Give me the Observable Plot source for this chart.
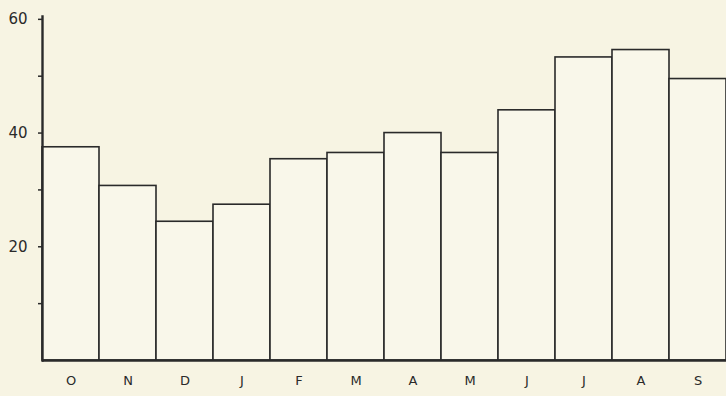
<!DOCTYPE html>
<html>
<head>
<meta charset="utf-8">
<script src="https://cdn.jsdelivr.net/npm/d3@7"></script>
<script src="https://cdn.jsdelivr.net/npm/@observablehq/plot@0.6"></script>
<style>
  html, body { margin: 0; padding: 0; background: #f7f4e3; }
  #chart svg { display: block; }
</style>
</head>
<body>
<div id="chart"></div>
<script>
const months = ["O","N","D","J","F","M","A","M","J","J","A","S"];
const values = [37.5, 30.7, 24.4, 27.4, 35.4, 36.5, 40.0, 36.5, 44.0, 53.3, 54.6, 49.5];
const yTicks = [10, 20, 30, 40, 50, 60];
const yLabelled = [20, 40, 60];

const data = months.map((m, i) => ({key: i, label: m, value: values[i]}));
const ink = "#2a2a2a";

const chart = Plot.plot({
  width: 726,
  height: 396,
  marginLeft: 42,
  marginRight: 0,
  marginTop: 16,
  marginBottom: 36,
  style: {background: "#f7f4e3", fontFamily: "DejaVu Sans", color: ink},
  x: {type: "band", domain: data.map(d => d.key), padding: 0},
  y: {domain: [0, 60.5]},
  marks: [
    Plot.barY(data, {x: "key", y: "value", fill: "#f9f7ea", stroke: ink, strokeWidth: 1.6}),
    Plot.ruleY([0], {stroke: ink, strokeWidth: 2.6}),
    Plot.frame({anchor: "left", stroke: ink, strokeWidth: 2.4}),
    Plot.axisY({ticks: yTicks, tickSize: 4, tickPadding: 11, fontSize: 15, fontWeight: 500,
      tickFormat: d => yLabelled.includes(d) ? String(d) : "", stroke: ink, strokeWidth: 1.5, label: null}),
    Plot.axisX({tickSize: 0, tickPadding: 15, fontSize: 13,
      tickFormat: k => months[k], label: null})
  ]
});
document.getElementById("chart").append(chart);
</script>
</body>
</html>
